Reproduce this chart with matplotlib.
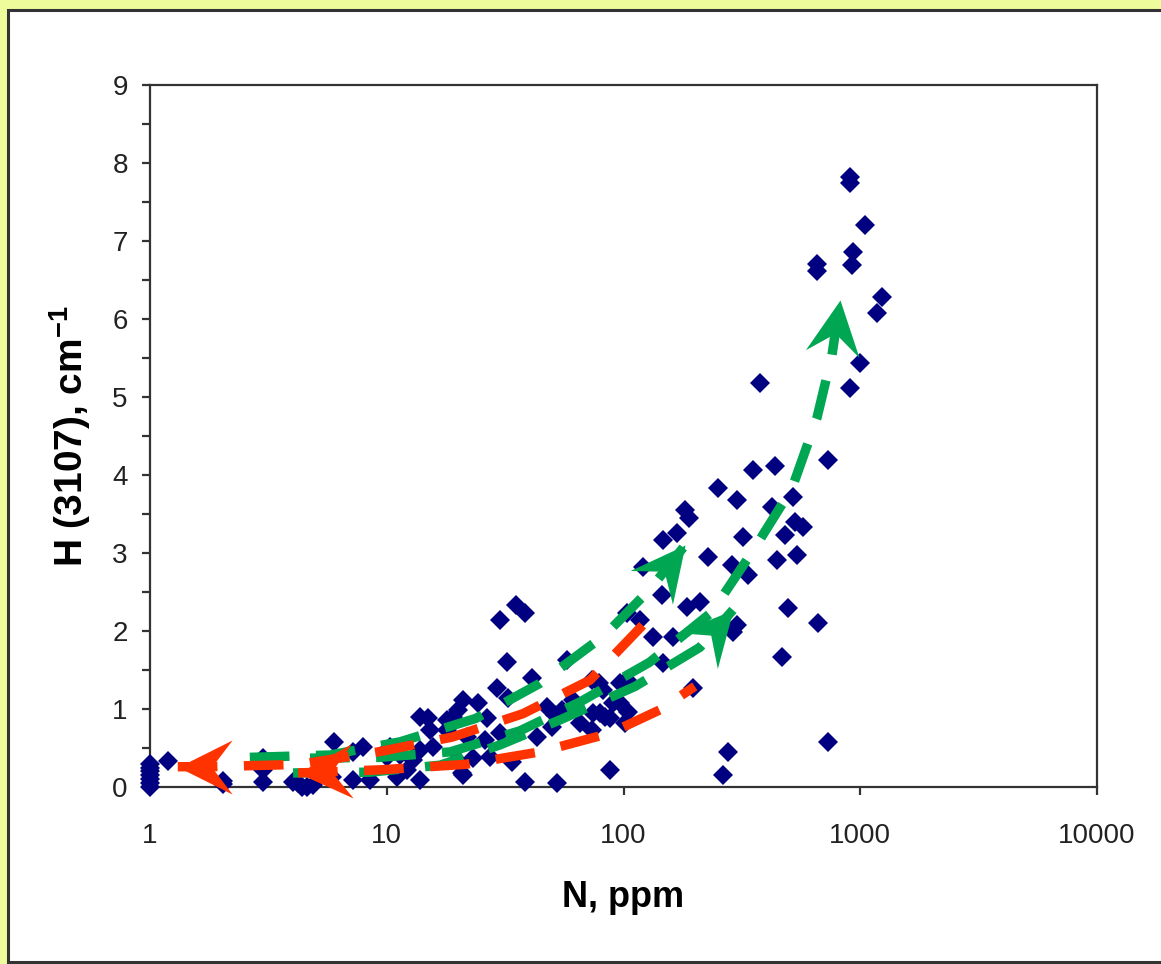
import numpy as np
import matplotlib
matplotlib.use("Agg")
import matplotlib.pyplot as plt
import matplotlib.patches as patches
from matplotlib.path import Path
from matplotlib.markers import MarkerStyle
from matplotlib.transforms import Affine2D
from matplotlib.ticker import FixedLocator, NullLocator, FuncFormatter, MultipleLocator

plt.rcParams['font.family'] = ['Liberation Sans', 'DejaVu Sans']
plt.rcParams['mathtext.fontset'] = 'custom'
plt.rcParams['mathtext.rm'] = 'Liberation Sans'
plt.rcParams['mathtext.bf'] = 'Liberation Sans:bold'

# N (ppm) and H(3107) absorption
n_ppm = [1, 1, 1, 1, 1, 1, 1, 1.19, 2.03, 2.03, 3.0, 3.0, 3.0,
         4.0, 4.2, 4.4, 4.6, 4.9, 5.9, 6.0, 7.2, 7.9, 7.2, 8.5,
         10.3, 10.0, 11.0, 11.4, 12.2, 12.9, 13.8, 13.8, 13.8, 14.9, 15.2,
         15.7, 17.9, 17.9, 19.0, 19.8, 20.0, 20.8, 21.0, 21.8, 21.0, 23.1,
         24.3, 26.0, 26.5, 27.3, 29.2, 30.1, 30.1, 32.2, 32.6, 33.8, 35.0,
         38.4, 38.4, 41.1, 43.1, 47.5, 49.9, 51.5, 52.4, 55.0, 57.6, 61.2,
         65.5, 73.6, 73.8, 74.3, 79.6, 79.0, 82.0, 83.5, 87.7, 87.7, 90.3,
         96.6, 96.6, 101, 103.5, 104, 103.5, 117, 121, 133, 145.5, 147,
         147, 162, 168, 182, 190, 186, 196, 210, 227, 251, 263, 276,
         287, 290, 301, 301, 320, 336, 352, 377, 424, 437, 446, 467,
         481, 495, 520, 530, 541, 573, 662, 656, 656, 731, 731, 906,
         906, 906, 925, 932, 998, 1047, 1177, 1236]
h_3107 = [0.0, 0.05, 0.1, 0.15, 0.2, 0.25, 0.3, 0.33, 0.08, 0.04, 0.37, 0.22, 0.06,
          0.06, 0.05, 0.0, 0.0, 0.03, 0.13, 0.58, 0.45, 0.51, 0.09, 0.09,
          0.51, 0.38, 0.13, 0.41, 0.22, 0.35, 0.09, 0.47, 0.90, 0.88, 0.73,
          0.51, 0.73, 0.86, 0.90, 0.35, 0.99, 0.18, 1.12, 0.64, 0.15, 0.37,
          1.08, 0.60, 0.88, 0.38, 1.27, 2.14, 0.69, 1.60, 1.14, 0.32, 2.33,
          2.23, 0.06, 1.40, 0.64, 1.03, 0.77, 0.92, 0.05, 0.99, 1.63, 1.12,
          0.82, 1.37, 0.73, 0.95, 0.95, 1.33, 1.24, 0.90, 0.88, 0.22, 1.08,
          1.33, 1.08, 0.82, 1.37, 0.96, 2.23, 2.14, 2.82, 1.92, 2.46, 3.17,
          1.59, 1.92, 3.26, 3.55, 3.45, 2.31, 1.27, 2.37, 2.95, 3.83, 0.15, 0.45,
          2.85, 1.99, 3.68, 2.08, 3.21, 2.72, 4.06, 5.18, 3.59, 4.12, 2.91, 1.67,
          3.23, 2.29, 3.72, 3.40, 2.97, 3.33, 2.10, 6.70, 6.62, 4.19, 0.58, 7.82,
          7.74, 5.12, 6.69, 6.86, 5.44, 7.21, 6.08, 6.28]

# dashed trend arrows (tip first for the red ones, tip last for the green ones)
red_upper_x = [1.31, 1.79, 4.3, 9.18, 18.9, 37.6, 72.2, 121]
red_upper_y = [0.26, 0.26, 0.29, 0.45, 0.64, 0.94, 1.37, 2.08]
red_lower_x = [4.22, 9.36, 21.4, 44.4, 87.7, 142.6, 200]
red_lower_y = [0.18, 0.22, 0.29, 0.45, 0.69, 0.99, 1.29]
green_top_x = [2.64, 5.76, 11.4, 23.8, 44.4, 83.5, 129, 182]
green_top_y = [0.38, 0.41, 0.58, 0.88, 1.33, 1.95, 2.53, 3.10]
green_mid_x = [4.02, 8.5, 16.8, 30.1, 53.9, 112, 210, 290]
green_mid_y = [0.18, 0.19, 0.28, 0.54, 0.86, 1.29, 1.79, 2.27]
green_long_x = [4.74, 9.36, 18.5, 36.5, 65.5, 129, 236, 349, 515, 656, 760, 821]
green_long_y = [0.37, 0.38, 0.45, 0.72, 1.09, 1.60, 2.24, 3.01, 3.83, 4.73, 5.54, 6.24]

red = '#ff3300'
green = '#00a651'

fig = plt.figure(figsize=(11.61, 9.64), dpi=100)
fig.patch.set_facecolor('#eefc9c')
panel = patches.Rectangle((8 / 1161, 2 / 964), 1.2, 952 / 964, transform=fig.transFigure,
                          facecolor='white', edgecolor='#333333', linewidth=2.2, zorder=-10)
fig.patches.append(panel)

ax = fig.add_axes([150 / 1161, 1 - 787 / 964, 947 / 1161, 702 / 964])
ax.set_zorder(1)
ax.set_facecolor('white')
ax.set_xscale('log')
ax.set_xlim(1, 10000)
ax.set_ylim(0, 9)

ax.plot(n_ppm, h_3107, linestyle='none', marker='D', markersize=10.5,
        color='#000080', markeredgewidth=0, clip_on=False, zorder=3)

# stealth arrow head, tip at the origin pointing +x
head = Path([(0, 0), (-1, 0.5), (-0.62, 0), (-1, -0.5), (0, 0)],
            [Path.MOVETO, Path.LINETO, Path.LINETO, Path.LINETO, Path.CLOSEPOLY])


def dashed_arrow(xs, ys, color, tip_first):
    ax.plot(xs, ys, color=color, lw=6.8, linestyle=(0, (4.2, 2.8)),
            dash_capstyle='butt', zorder=4)
    if tip_first:
        tip, prev = (xs[0], ys[0]), (xs[1], ys[1])
    else:
        tip, prev = (xs[-1], ys[-1]), (xs[-2], ys[-2])
    p1 = ax.transData.transform(prev)
    p2 = ax.transData.transform(tip)
    ang = np.degrees(np.arctan2(p2[1] - p1[1], p2[0] - p1[0]))
    m = MarkerStyle(head, transform=Affine2D().rotate_deg(ang))
    ax.plot([tip[0]], [tip[1]], marker=m, markersize=78, color=color,
            markeredgewidth=0, linestyle='none', zorder=5, clip_on=False)


dashed_arrow(green_mid_x, green_mid_y, green, False)
dashed_arrow(green_long_x, green_long_y, green, False)
dashed_arrow(red_lower_x, red_lower_y, red, True)
dashed_arrow(green_top_x, green_top_y, green, False)
dashed_arrow(red_upper_x, red_upper_y, red, True)

ax.xaxis.set_major_locator(FixedLocator([1, 10, 100, 1000, 10000]))
ax.xaxis.set_minor_locator(NullLocator())
ax.xaxis.set_major_formatter(FuncFormatter(lambda v, p: f'{v:g}'))
ax.yaxis.set_major_locator(MultipleLocator(1))
ax.yaxis.set_minor_locator(MultipleLocator(0.5))

for s in ax.spines.values():
    s.set_color('#333333')
    s.set_linewidth(1.6)
ax.tick_params(axis='both', which='major', direction='out', length=6, width=1.6,
               color='#333333', labelsize=20, labelcolor='#222222', pad=10)
ax.tick_params(axis='y', which='minor', direction='out', length=6, width=1.6, color='#333333')
ax.tick_params(axis='x', pad=20)

ax.set_xlabel('N, ppm', fontsize=26, fontweight='bold', labelpad=22)
ax.set_ylabel(r'H (3107), cm$^{\mathbf{-1}}$', fontsize=28, fontweight='bold', labelpad=14)

fig.savefig('out.png', dpi=100, facecolor=fig.get_facecolor())
